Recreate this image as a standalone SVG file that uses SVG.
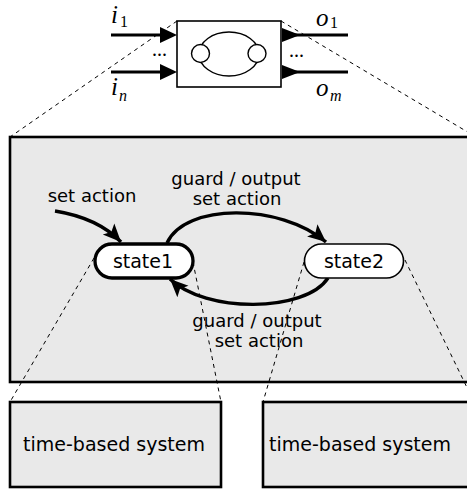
<svg xmlns="http://www.w3.org/2000/svg" width="467" height="489" viewBox="0 0 467 489">
<style>
.dash{fill:none;stroke:#000;stroke-width:1;stroke-dasharray:4,4}
.box{fill:#e9e9e9;stroke:#000;stroke-width:2.6}
.lbl{font-family:"DejaVu Sans",sans-serif;font-size:18px;fill:#000;text-anchor:middle}
.big{font-family:"DejaVu Sans",sans-serif;font-size:19px;fill:#000;text-anchor:middle}
.it{font-family:"Liberation Serif",serif;font-style:italic;font-size:25px;fill:#000}
.sub{font-family:"Liberation Serif",serif;font-size:16px;fill:#000}
.subi{font-family:"Liberation Serif",serif;font-style:italic;font-size:16px;fill:#000}
.arc{fill:none;stroke:#000;stroke-width:3.4}
.io{stroke:#000;stroke-width:3.2}
</style>
<defs>
<marker id="ah" markerUnits="userSpaceOnUse" markerWidth="20" markerHeight="20" viewBox="0 0 20 20" refX="18" refY="10" orient="auto">
<path d="M0,2 L18,10 L0,18 L4,10 Z" fill="#000"/>
</marker>
</defs>
<g id="connectors">
<line class="dash" x1="177" y1="21" x2="10" y2="137"/>
<line class="dash" x1="281" y1="21" x2="476" y2="137"/>
<line class="io" x1="111" y1="35" x2="162" y2="35"/>
<line class="io" x1="111" y1="72" x2="162" y2="72"/>
<polygon points="160,27 177,35 160,43" fill="#000"/>
<polygon points="160,64 177,72 160,80" fill="#000"/>
<line class="io" x1="295" y1="35" x2="348" y2="35"/>
<line class="io" x1="295" y1="72" x2="348" y2="72"/>
<polygon points="282,28 300,35 282,42" fill="#000"/>
<polygon points="282,65 300,72 282,79" fill="#000"/>
</g>
<g id="top-block">
<rect x="177" y="21" width="104" height="66" fill="#fff" stroke="#000" stroke-width="1.6"/>
<ellipse cx="229" cy="54" rx="30" ry="22" fill="none" stroke="#000" stroke-width="1.4"/>
<circle cx="200.5" cy="53.5" r="9" fill="#fff" stroke="#000" stroke-width="1.4"/>
<circle cx="257" cy="53.5" r="9" fill="#fff" stroke="#000" stroke-width="1.4"/>
<text x="152" y="56" style="font-family:'Liberation Serif',serif;font-size:20px">...</text>
<text x="289" y="57" style="font-family:'Liberation Serif',serif;font-size:20px">...</text>
<text class="it" x="111" y="23">i</text><text class="sub" x="120" y="27">1</text>
<text class="it" x="111" y="95">i</text><text class="subi" x="119" y="101">n</text>
<text class="it" x="316" y="26">o</text><text class="sub" x="330" y="28">1</text>
<text class="it" x="316" y="96">o</text><text class="subi" x="330" y="101">m</text>
</g>
<g id="fsm">
<rect class="box" x="10" y="137" width="470" height="245"/>
</g>
<g id="zoom-lines">
<line class="dash" x1="94" y1="258" x2="10" y2="402"/>
<line class="dash" x1="193" y1="262" x2="221" y2="402"/>
<line class="dash" x1="304" y1="262" x2="263" y2="402"/>
<line class="dash" x1="405" y1="260" x2="474" y2="402"/>
</g>
<g id="transitions">
<path class="arc" d="M55,211 Q98,218 121,242" marker-end="url(#ah)"/>
<path class="arc" d="M167,243 C185,203 280,203 326,242" marker-end="url(#ah)"/>
<path class="arc" d="M328,278 C305,313 205,313 170,279" marker-end="url(#ah)"/>
<text class="lbl" x="92" y="202">set action</text>
<text class="lbl" x="236" y="185">guard / output</text>
<text class="lbl" x="237" y="205">set action</text>
<text class="lbl" x="257" y="327">guard / output</text>
<text class="lbl" x="259" y="347">set action</text>
</g>
<g id="state1">
<rect x="95" y="244" width="98" height="34" rx="17" fill="#fff" stroke="#000" stroke-width="3.3"/>
<text class="big" x="143" y="268">state1</text>
</g>
<g id="state2">
<rect x="304.5" y="244" width="99" height="34" rx="17" fill="#fff" stroke="#000" stroke-width="1.6"/>
<text class="big" x="354" y="268">state2</text>
</g>
<g id="system1">
<rect class="box" x="10" y="402" width="211" height="85"/>
<text class="big" x="114" y="451">time-based system</text>
</g>
<g id="system2">
<rect class="box" x="263" y="402" width="212" height="85"/>
<text class="big" x="360" y="451">time-based system</text>
</g>
</svg>
